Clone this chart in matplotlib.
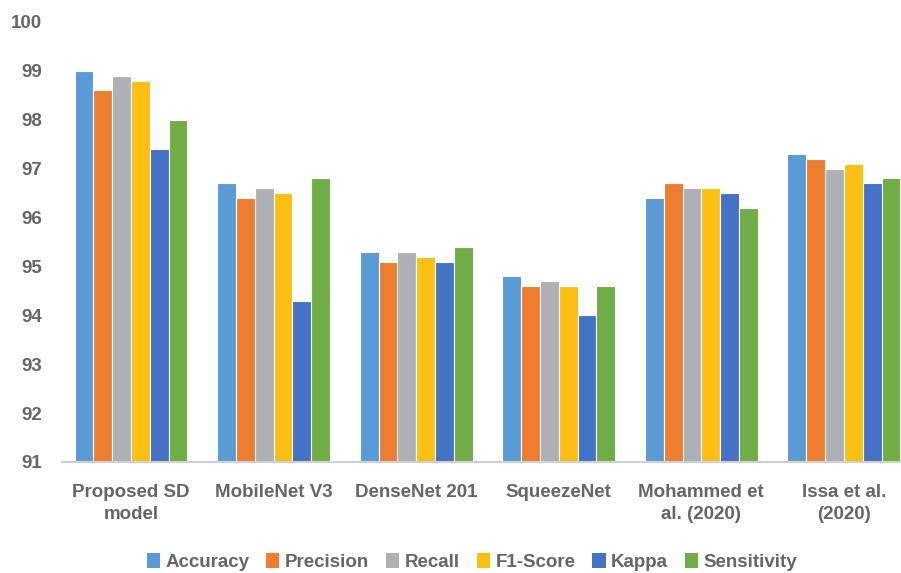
import numpy as np
import matplotlib.pyplot as plt
from matplotlib.patches import Patch

models = ["Proposed SD\nmodel", "MobileNet V3", "DenseNet 201", "SqueezeNet",
          "Mohammed et\nal. (2020)", "Issa et al.\n(2020)"]
metrics = ["Accuracy", "Precision", "Recall", "F1-Score", "Kappa", "Sensitivity"]

accuracy = [99.0, 96.7, 95.3, 94.8, 96.4, 97.3]
precision = [98.6, 96.4, 95.1, 94.6, 96.7, 97.2]
recall = [98.9, 96.6, 95.3, 94.7, 96.6, 97.0]
f1_score = [98.8, 96.5, 95.2, 94.6, 96.6, 97.1]
kappa = [97.4, 94.3, 95.1, 94.0, 96.5, 96.7]
sensitivity = [98.0, 96.8, 95.4, 94.6, 96.2, 96.8]

colors = ["#5B9BD5", "#ED7D31", "#AFB0B3", "#FCC014", "#4472C4", "#70AD47"]
series = [accuracy, precision, recall, f1_score, kappa, sensitivity]

plt.rcParams['font.family'] = ['Liberation Sans', 'DejaVu Sans']
plt.rcParams['font.weight'] = 'bold'
text_color = "#666666"

fig = plt.figure(figsize=(9.01, 5.73), dpi=100)
ax = fig.add_axes([62 / 901, 111 / 573, 839 / 901, 440 / 573])

x = np.arange(len(models))
w = 0.132
for i, (vals, c) in enumerate(zip(series, colors)):
    ax.bar(x + (i - 2.5) * w, np.array(vals) - 91, w, bottom=91, color=c,
           edgecolor="white", linewidth=0.8, label=metrics[i])

ax.set_ylim(91, 100)
ax.set_xlim(-0.484, 5.40)
ax.set_yticks(range(91, 101))
ax.set_xticks(x)
ax.set_xticklabels(models, fontsize=13.5, color=text_color, linespacing=1.4)
ax.tick_params(axis='y', labelsize=13.5, labelcolor=text_color, length=0, pad=14.5)
ax.tick_params(axis='x', length=0, pad=16)

for side in ["top", "right", "left"]:
    ax.spines[side].set_visible(False)
ax.spines["bottom"].set_color("#d0d0d0")
ax.spines["bottom"].set_linewidth(1.5)

handles = [Patch(facecolor=c, label=m) for c, m in zip(colors, metrics)]
leg = fig.legend(handles=handles, loc="center", bbox_to_anchor=(472 / 901, 1 - 562 / 573),
                 ncol=6, frameon=False, fontsize=13.5, handlelength=0.7, handleheight=0.9,
                 handletextpad=0.3, columnspacing=0.9)
for t in leg.get_texts():
    t.set_color(text_color)

fig.savefig("out.png", dpi=100)
